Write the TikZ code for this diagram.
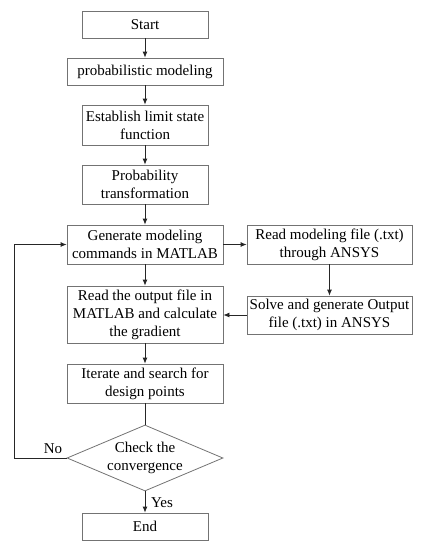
\documentclass[tikz,border=0pt]{standalone}
\usepackage{fontspec}
\setmainfont{Liberation Serif}
\usetikzlibrary{shapes.geometric,arrows.meta}
\begin{document}
\begin{tikzpicture}[x=1pt,y=-1pt,
  font=\fontsize{15}{18}\selectfont,
  box/.style={draw=black!55, line width=0.8pt, align=center, inner sep=1pt},
  arr/.style={draw=black!85, line width=0.8pt, -{Latex[length=6pt,width=5pt]}},
  ln/.style={draw=black!85, line width=0.8pt}]
\useasboundingbox (0,0) rectangle (425,550);
\node[box, minimum width=126pt, minimum height=27pt] (start) at (145,24.5) {Start};
\node[box, minimum width=156pt, minimum height=27pt] (prob) at (145,71.5) {probabilistic modeling};
\node[box, minimum width=126pt, minimum height=40pt] (lsf) at (145,125) {Establish limit state\\function};
\node[box, minimum width=126pt, minimum height=39pt] (trans) at (145,184.5) {Probability\\transformation};
\node[box, minimum width=156pt, minimum height=39pt] (gen) at (145,244.5) {Generate modeling\\commands in MATLAB};
\node[box, minimum width=165pt, minimum height=39pt] (rmod) at (329.5,244.5) {Read modeling file (.txt)\\through ANSYS};
\node[box, minimum width=156pt, minimum height=57pt] (rout) at (145,314.5) {Read the output file in\\MATLAB and calculate\\the gradient};
\node[box, minimum width=165pt, minimum height=38pt] (solve) at (329.5,315) {Solve and generate Output\\file (.txt) in ANSYS};
\node[box, minimum width=156pt, minimum height=39pt] (iter) at (145,383.5) {Iterate and search for\\design points};
\node[box, shape=diamond, aspect=2.36, inner sep=0pt, minimum width=156pt, minimum height=66pt] (dia) at (145,458) {Check the\\convergence};
\node[box, minimum width=126pt, minimum height=27pt] (end) at (145,526.5) {End};
\coordinate (lp) at (14,458);
\node (no) at (53,449) {No};
\node (yes) at (162,503) {Yes};
\draw[arr] (start) -- (prob);
\draw[arr] (prob) -- (lsf);
\draw[arr] (lsf) -- (trans);
\draw[arr] (trans) -- (gen);
\draw[arr] (gen) -- (rmod);
\draw[arr] (rmod) -- (solve);
\draw[arr] (solve.west) -- (rout.east |- solve.west);
\draw[arr] (gen) -- (rout);
\draw[arr] (rout) -- (iter);
\draw[ln] (iter) -- (dia);
\draw[arr] (dia) -- (end);
\draw[arr] (dia.west) -- (lp) |- (gen.west);
\end{tikzpicture}
\end{document}
